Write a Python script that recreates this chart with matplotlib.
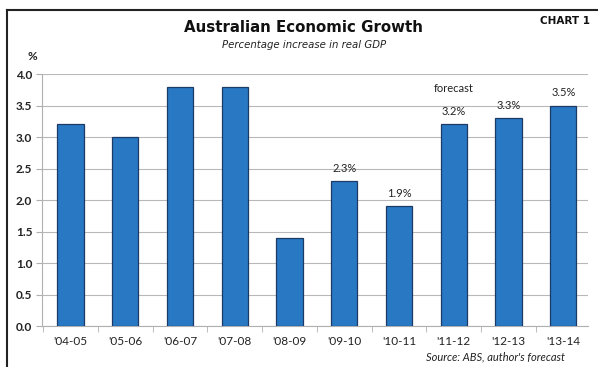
import matplotlib.pyplot as plt
import matplotlib.lines as mlines

years = ["'04-05", "'05-06", "'06-07", "'07-08", "'08-09",
         "'09-10", "'10-11", "'11-12", "'12-13", "'13-14"]
growth = [3.2, 3.0, 3.8, 3.8, 1.4, 2.3, 1.9, 3.2, 3.3, 3.5]
labelled = [5, 6, 7, 8, 9]
yticks = [0.0, 0.5, 1.0, 1.5, 2.0, 2.5, 3.0, 3.5, 4.0]

plt.rcParams["font.family"] = ["Lato", "DejaVu Sans"]

fig = plt.figure(figsize=(5.98, 3.67), dpi=100)
ax = fig.add_axes([0.0702, 0.1117, 0.913, 0.6866])

x = list(range(len(years)))
ax.bar(x, growth, width=0.48, color="#2878c4", edgecolor="#1c3a66",
       linewidth=0.9, zorder=3)

ax.set_xlim(-0.52, 9.45)
ax.set_ylim(0, 4.0)
ax.set_yticks(yticks)
ax.set_yticklabels([f"{v:.1f}" for v in yticks])
ax.set_xticks(x)
ax.set_xticklabels(years)
ax.set_xticks([i + 0.5 for i in range(-1, 9)], minor=True)

ax.grid(axis="y", color="#b8b8b8", linewidth=0.8, zorder=0)
for s in ["top", "right"]:
    ax.spines[s].set_visible(False)
ax.spines["left"].set_color("#b0b0b0")
ax.spines["bottom"].set_color("#b0b0b0")
ax.tick_params(axis="x", which="major", length=0, pad=7,
               labelsize=8.5, labelcolor="#222222")
ax.tick_params(axis="x", which="minor", length=4, color="#b0b0b0")
ax.tick_params(axis="y", length=4, color="#b0b0b0", pad=3,
               labelsize=8.5, labelcolor="#222222")
for lab in ax.get_yticklabels():
    lab.set_fontweight("bold")

for i in labelled:
    ax.text(i, growth[i] + 0.12, f"{growth[i]:.1f}%", ha="center",
            va="bottom", fontsize=8, color="#222222")
ax.text(7.0, 3.68, "forecast", ha="center", va="bottom",
        fontsize=8, color="#222222")

fig.text(0.508, 0.924, "Australian Economic Growth", ha="center",
         va="center", fontsize=10.8, fontweight="bold", color="#111111",
         family="DejaVu Sans")
fig.text(0.509, 0.877, "Percentage increase in real GDP", ha="center",
         va="center", fontsize=7.3, style="italic", color="#222222",
         family="DejaVu Sans")
fig.text(0.987, 0.943, "CHART 1", ha="right", va="center",
         fontsize=7.5, fontweight="bold", color="#111111",
         family="DejaVu Sans")
fig.text(0.054, 0.845, "%", ha="center", va="center",
         fontsize=8.5, fontweight="bold", color="#222222")
fig.text(0.945, 0.027, "Source: ABS, author's forecast", ha="right",
         va="center", fontsize=8, style="italic", color="#222222")

# frame around the chart (left and top edges visible)
fig.add_artist(mlines.Line2D([0.012, 0.012], [0, 0.973], color="#222222",
                             linewidth=1.5, transform=fig.transFigure))
fig.add_artist(mlines.Line2D([0.012, 1.0], [0.973, 0.973], color="#222222",
                             linewidth=1.5, transform=fig.transFigure))

fig.savefig("out.png", dpi=100)
